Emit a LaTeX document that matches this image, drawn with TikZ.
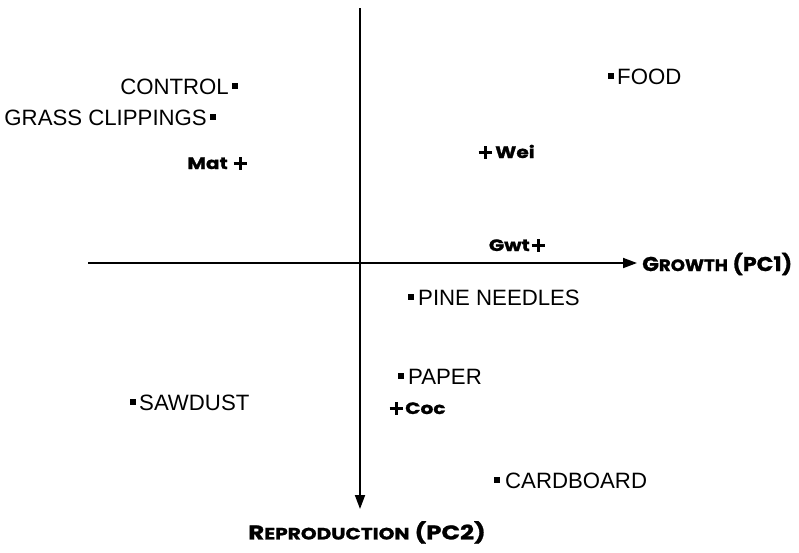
\documentclass[tikz,border=0pt]{standalone}
\usepackage{fontspec}
\setmainfont{Liberation Sans}
\newfontfamily\heavyfont{Poppins}[BoldFeatures={FakeStretch=1.22,FakeBold=1.2}]
\usetikzlibrary{arrows.meta}
\newcommand\capsz[1]{{\fontsize{20}{24}\selectfont #1}}
\newcommand\smsz[1]{{\fontsize{16.5}{19}\selectfont #1}}
\begin{document}
\begin{tikzpicture}[x=1pt,y=-1pt,
  axis/.style={line width=1.8pt,-{Triangle[length=14pt,width=10pt]}},
  sq/.style={fill=black,draw=none,minimum size=5.5pt,inner sep=0pt,outer sep=0pt},
  lbl/.style={font=\fontsize{22.2}{26}\selectfont,inner sep=0pt},
  var/.style={font=\heavyfont\bfseries\fontsize{16.5}{19}\selectfont,inner sep=0pt},
  axlbl/.style={font=\heavyfont\bfseries,inner sep=0pt},
  plusmark/.style={line width=3pt}]
\useasboundingbox (0,0) rectangle (799,552);
% axes
\coordinate (xstart) at (88,263);
\coordinate (xend) at (637,263);
\coordinate (ystart) at (360,8);
\coordinate (yend) at (360,509);
\draw[axis] (xstart) -- (xend);
\draw[axis] (ystart) -- (yend);
\node[axlbl,anchor=west] (pc1) at (642,264) {\scalebox{0.9}[1]{\capsz{G}\smsz{ROWTH}\hspace{5pt}\capsz{(PC1)}}};
\node[axlbl,anchor=north] (pc2) at (367,521) {\capsz{R}\smsz{EPRODUCTION}\hspace{5pt}\capsz{(PC2)}};
% treatment points
\node[sq] (control) at (235,86) {};
\node[lbl,anchor=base east] (controlL) at (229,94) {CONTROL};
\node[sq] (grass) at (213,117) {};
\node[lbl,anchor=base east] (grassL) at (207,125) {GRASS CLIPPINGS};
\node[sq] (food) at (611,76) {};
\node[lbl,anchor=base west] (foodL) at (617,84) {FOOD};
\node[sq] (pine) at (411,297) {};
\node[lbl,anchor=base west] (pineL) at (418,305) {PINE NEEDLES};
\node[sq] (paper) at (401,376) {};
\node[lbl,anchor=base west] (paperL) at (408,384) {PAPER};
\node[sq] (sawdust) at (133,402) {};
\node[lbl,anchor=base west] (sawdustL) at (139,410) {SAWDUST};
\node[sq] (cardboard) at (497,480) {};
\node[lbl,anchor=base west] (cardboardL) at (505,488) {CARDBOARD};
% variable points
\coordinate (mat) at (240,163);
\draw[plusmark] ([xshift=-6.5]mat) -- ([xshift=6.5]mat) ([yshift=-6.5]mat) -- ([yshift=6.5]mat);
\node[var,anchor=base east] (matL) at (228,169) {Mat};
\coordinate (wei) at (485,152);
\draw[plusmark] ([xshift=-6.5]wei) -- ([xshift=6.5]wei) ([yshift=-6.5]wei) -- ([yshift=6.5]wei);
\node[var,anchor=base west] (weiL) at (495,158) {Wei};
\coordinate (gwt) at (538,245);
\draw[plusmark] ([xshift=-6.5]gwt) -- ([xshift=6.5]gwt) ([yshift=-6.5]gwt) -- ([yshift=6.5]gwt);
\node[var,anchor=base east] (gwtL) at (530,251) {Gwt};
\coordinate (coc) at (396,408);
\draw[plusmark] ([xshift=-6.5]coc) -- ([xshift=6.5]coc) ([yshift=-6.5]coc) -- ([yshift=6.5]coc);
\node[var,anchor=base west] (cocL) at (405,414) {Coc};
\end{tikzpicture}
\end{document}
